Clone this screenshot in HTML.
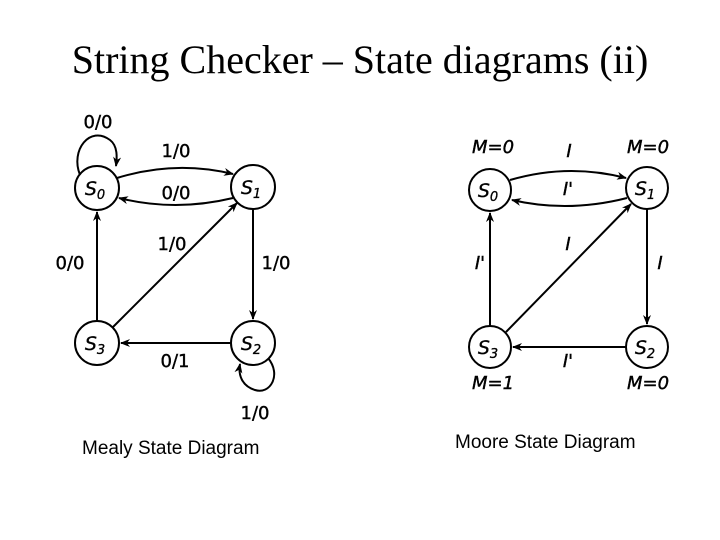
<!DOCTYPE html>
<html><head><meta charset="utf-8"><style>
html,body{margin:0;padding:0;background:#fff;width:720px;height:540px;overflow:hidden}
</style></head><body>
<svg width="720" height="540" viewBox="0 0 720 540" xmlns="http://www.w3.org/2000/svg">
<defs><marker id="a" markerWidth="10" markerHeight="8" refX="9" refY="4" orient="auto" markerUnits="userSpaceOnUse"><path d="M0,0 L10,4 L0,8 L3,4 Z" fill="#000"/></marker></defs>
<text x="360" y="73" font-family="Liberation Serif, serif" font-size="40" text-anchor="middle">String Checker – State diagrams (ii)</text>
<g fill="none" stroke="#000" stroke-width="2">
<!-- Mealy -->
<circle cx="97" cy="188" r="22"/><circle cx="253" cy="187" r="22"/>
<circle cx="97" cy="343" r="22"/><circle cx="253" cy="343" r="22"/>
<path d="M117,178 Q175,160 233,174" marker-end="url(#a)"/>
<path d="M233,198 Q175,212 119,198" marker-end="url(#a)"/>
<path d="M97,321 L97,212" marker-end="url(#a)"/>
<path d="M113,327 L237,203" marker-end="url(#a)"/>
<path d="M253,209 L253,319" marker-end="url(#a)"/>
<path d="M231,343 L121,343" marker-end="url(#a)"/>
<path d="M80,175 C70,150 90,125 110,140 C118,146 117,158 116,166" marker-end="url(#a)"/>
<path d="M268,358 C282,375 270,395 255,390 C242,386 238,375 240,364" marker-end="url(#a)"/>
<!-- Moore -->
<circle cx="490" cy="190" r="21"/><circle cx="647" cy="188" r="21"/>
<circle cx="490" cy="347" r="21"/><circle cx="647" cy="347" r="21"/>
<path d="M510,180 Q568,163 626,178" marker-end="url(#a)"/>
<path d="M627,198 Q568,213 512,200" marker-end="url(#a)"/>
<path d="M490,326 L490,213" marker-end="url(#a)"/>
<path d="M506,332 L631,204" marker-end="url(#a)"/>
<path d="M647,209 L647,324" marker-end="url(#a)"/>
<path d="M626,347 L513,347" marker-end="url(#a)"/>
</g>
<g font-family="DejaVu Sans, sans-serif" font-size="18" text-anchor="middle" stroke="#000" stroke-width="0.4">
<text x="98" y="128">0/0</text><text x="176" y="157">1/0</text><text x="176" y="199">0/0</text>
<text x="172" y="250">1/0</text><text x="70" y="269">0/0</text><text x="276" y="269">1/0</text>
<text x="175" y="367">0/1</text><text x="255" y="419">1/0</text>
<g font-style="italic">
<text x="493" y="153">M=0</text><text x="648" y="153">M=0</text>
<text x="493" y="389">M=1</text><text x="648" y="389">M=0</text>
<text x="569" y="157">I</text><text x="568" y="195">I'</text><text x="568" y="250">I</text>
<text x="480" y="269">I'</text><text x="660" y="269">I</text><text x="568" y="367">I'</text>
</g>
</g>
<g font-family="DejaVu Sans, sans-serif" font-size="19" font-style="italic" text-anchor="middle" stroke="#000" stroke-width="0.3">
<text x="95" y="195">S<tspan font-size="13" dy="4">0</tspan></text>
<text x="251" y="194">S<tspan font-size="13" dy="4">1</tspan></text>
<text x="95" y="350">S<tspan font-size="13" dy="4">3</tspan></text>
<text x="251" y="350">S<tspan font-size="13" dy="4">2</tspan></text>
<text x="488" y="197">S<tspan font-size="13" dy="4">0</tspan></text>
<text x="645" y="195">S<tspan font-size="13" dy="4">1</tspan></text>
<text x="488" y="354">S<tspan font-size="13" dy="4">3</tspan></text>
<text x="645" y="354">S<tspan font-size="13" dy="4">2</tspan></text>
</g>
<g font-family="Liberation Sans, sans-serif" font-size="19">
<text x="82" y="454">Mealy State Diagram</text>
<text x="455" y="448">Moore State Diagram</text>
</g>
</svg>
</body></html>
